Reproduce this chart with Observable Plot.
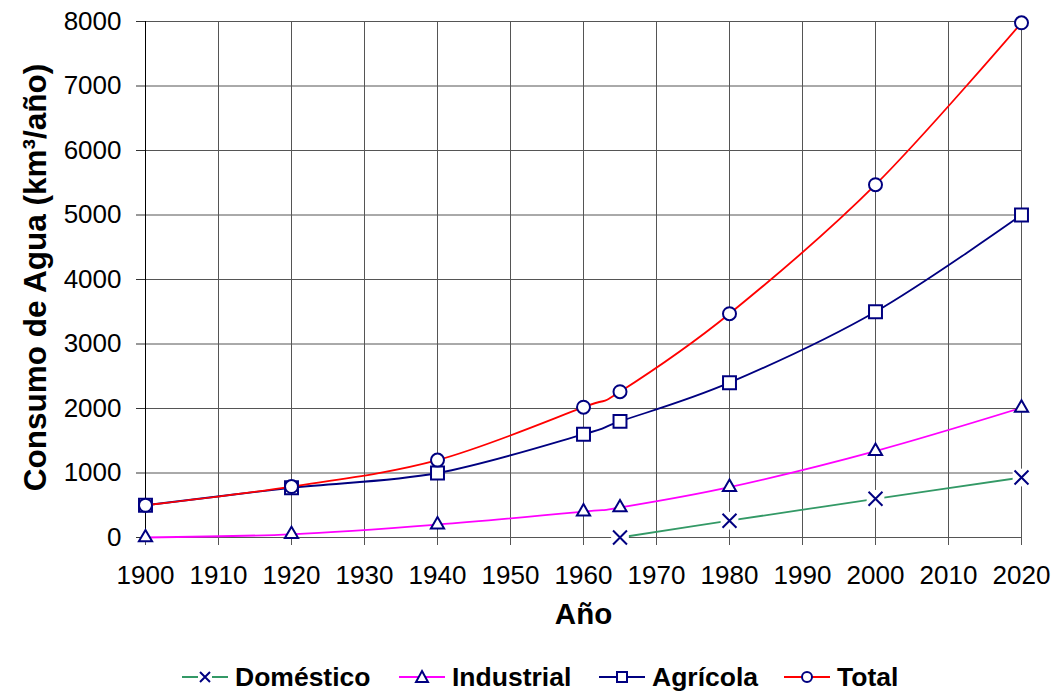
<!DOCTYPE html>
<html><head><meta charset="utf-8">
<script src="https://cdn.jsdelivr.net/npm/d3@7"></script>
<script src="https://cdn.jsdelivr.net/npm/@observablehq/plot@0.6"></script>
<style>
body{margin:0;background:#fff;overflow:hidden;font-family:"Liberation Sans",Arial,sans-serif;}
#chart{position:relative;width:1054px;height:692px;}
#chart svg.plot{position:absolute;left:0;top:0;}
.leg{position:absolute;top:662px;height:30px;display:flex;align-items:center;font-weight:bold;font-size:26.5px;color:#000;white-space:nowrap;}
.leg svg{margin-right:7px;}
</style></head><body><div id="chart"></div>
<script>
const years = [1900, 1920, 1940, 1960, 1965, 1980, 2000, 2020];
const domYears = [1965, 1980, 2000, 2020];
const domestico = [0, 260, 600, 930];
const industrial = [0, 50, 200, 400, 465, 780, 1340, 2010];
const agricola = [500, 770, 1000, 1600, 1800, 2400, 3500, 5000];
const total = [500, 790, 1200, 2020, 2260, 3470, 5470, 7980];
const xTicks = [1900, 1910, 1920, 1930, 1940, 1950, 1960, 1970, 1980, 1990, 2000, 2010, 2020];
const yTicks = [0, 1000, 2000, 3000, 4000, 5000, 6000, 7000, 8000];
const seriesNames = ["Doméstico", "Industrial", "Agrícola", "Total"];
const yLabel = "Consumo de Agua (km³/año)";
const xLabel = "Año";

const domData = domYears.map((x, i) => ({x, y: domestico[i]}));
const indData = years.map((x, i) => ({x, y: industrial[i]}));
const agrData = years.map((x, i) => ({x, y: agricola[i]}));
const totData = years.map((x, i) => ({x, y: total[i]}));

const NAVY = "#000080";
const colors = {dom: "#339966", ind: "#ff00ff", agr: "#000080", tot: "#ff0000"};
const lineOpts = (c) => ({x: "x", y: "y", stroke: c, strokeWidth: 1.8, curve: "cardinal"});

const chart = Plot.plot({
  width: 1054,
  height: 640,
  marginTop: 21,
  marginRight: 33,
  marginBottom: 103,
  marginLeft: 145,
  style: {fontFamily: '"Liberation Sans", Arial, sans-serif', fontSize: "26px", background: "#fff", color: "#000"},
  x: {domain: [1900, 2020], label: null},
  y: {domain: [0, 8000], label: null},
  marks: [
    Plot.gridY(yTicks, {stroke: "#555", strokeOpacity: 1}),
    Plot.gridX(xTicks, {stroke: "#555", strokeOpacity: 1}),
    Plot.ruleX([1900], {stroke: "#000"}),
    Plot.axisY(yTicks, {tickSize: 9, tickPadding: 15, fontSize: 26, label: null, tickFormat: d => String(d), stroke: "#333"}),
    Plot.axisX(xTicks, {tickSize: 8, tickPadding: 20, fontSize: 26, label: null, tickFormat: d => String(d), stroke: "#555"}),
    Plot.line(domData, lineOpts(colors.dom)),
    Plot.dot(domData, {x: "x", y: "y", symbol: "square", r: 10, fill: "#fff", stroke: "none"}),
    Plot.dot(domData, {x: "x", y: "y", symbol: "times", r: 6.4, stroke: NAVY, strokeWidth: 2}),
    Plot.line(indData, lineOpts(colors.ind)),
    Plot.dot(indData, {x: "x", y: "y", symbol: "triangle", r: 4.9, fill: "#fff", stroke: NAVY, strokeWidth: 2}),
    Plot.line(agrData, lineOpts(colors.agr)),
    Plot.dot(agrData, {x: "x", y: "y", symbol: "square", r: 7.3, fill: "#fff", stroke: NAVY, strokeWidth: 2}),
    Plot.line(totData, lineOpts(colors.tot)),
    Plot.dot(totData, {x: "x", y: "y", symbol: "circle", r: 6.5, fill: "#fff", stroke: NAVY, strokeWidth: 2}),
    Plot.text([yLabel], {text: d => d, frameAnchor: "left", dx: -110, dy: -2, rotate: -90, textAnchor: "middle", fontSize: 31.5, fontWeight: "bold"}),
    Plot.text([xLabel], {text: d => d, frameAnchor: "bottom", dy: 86, textAnchor: "middle", fontSize: 29.5, fontWeight: "bold"})
  ]
});
chart.classList.add("plot");
const root = document.getElementById("chart");
root.appendChild(chart);

// legend below the chart
const legendItems = [
  {name: seriesNames[0], color: colors.dom, sym: "x", left: 182},
  {name: seriesNames[1], color: colors.ind, sym: "tri", left: 399},
  {name: seriesNames[2], color: colors.agr, sym: "sq", left: 599},
  {name: seriesNames[3], color: colors.tot, sym: "circ", left: 784}
];
for (const it of legendItems) {
  const div = document.createElement("div");
  div.className = "leg";
  div.style.left = it.left + "px";
  let sym = "";
  if (it.sym === "x") sym = `<rect x="16" y="3" width="14" height="14" fill="#fff"/><path d="M18,5L28,15M18,15L28,5" stroke="${NAVY}" stroke-width="2" fill="none"/>`;
  if (it.sym === "tri") sym = `<path d="M23,4L29,15L17,15Z" stroke="${NAVY}" stroke-width="2" fill="#fff"/>`;
  if (it.sym === "sq") sym = `<rect x="18" y="5" width="10" height="10" stroke="${NAVY}" stroke-width="2" fill="#fff"/>`;
  if (it.sym === "circ") sym = `<circle cx="23" cy="10" r="5" stroke="${NAVY}" stroke-width="2" fill="#fff"/>`;
  div.innerHTML = `<svg width="46" height="20" viewBox="0 0 46 20"><line x1="0" x2="46" y1="10" y2="10" stroke="${it.color}" stroke-width="2"/>${sym}</svg><span>${it.name}</span>`;
  root.appendChild(div);
}
</script>
</body></html>
